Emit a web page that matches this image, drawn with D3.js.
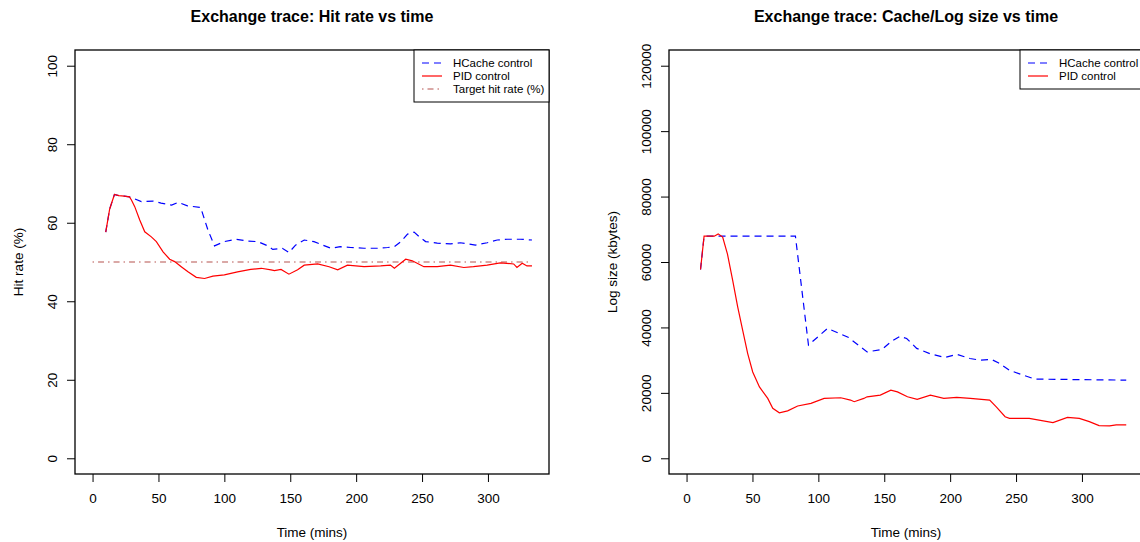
<!DOCTYPE html>
<html>
<head>
<meta charset="utf-8">
<script src="https://cdn.jsdelivr.net/npm/d3@7"></script>
<style>
  body { margin: 0; background: #fff; }
  text { font-family: "Liberation Sans", Arial, sans-serif; }
</style>
</head>
<body>
<div id="chart"></div>
<script>
// Hit rate (%) traces
var hitTime = [10, 13, 16.6, 20, 24, 28, 29.5, 32, 35.8, 39.6, 44.6, 48.4, 53.5, 58.5, 62.3, 67.3, 72.4, 78.7, 85, 91.3, 100, 105, 110, 115, 120, 128, 135.4, 138, 143, 149, 155.6, 160.6, 170.8, 179.5, 186, 193.4, 206, 218.6, 226, 229, 237.6, 242.6, 251.4, 261.5, 271.6, 281.7, 289, 299.4, 309.4, 319.5, 322, 326, 329.6, 333.4];
var hitPid = [57.6, 63.5, 67.2, 66.9, 66.8, 66.6, 65.8, 64.1, 60.7, 57.7, 56.4, 55.2, 52.6, 50.7, 50.1, 48.8, 47.5, 46.1, 45.8, 46.4, 46.7, 47.1, 47.5, 47.8, 48.1, 48.4, 48.0, 47.8, 48.1, 46.9, 48.0, 49.2, 49.5, 48.8, 48.0, 49.2, 48.8, 49.0, 49.2, 48.4, 50.7, 50.3, 48.8, 48.8, 49.2, 48.6, 48.8, 49.2, 49.8, 49.5, 48.6, 49.7, 49.0, 49.0];

var hcTime = [10, 13, 16.6, 20, 24, 28, 37, 46, 52, 60, 65, 72, 82, 87.5, 92.5, 100, 109, 115, 118, 125.4, 133, 136.7, 144, 149, 154, 160.6, 168, 174.5, 181, 188, 196, 206, 216, 224, 229, 234, 239, 244, 248, 252.7, 261.5, 271.6, 279, 290.5, 299.4, 307, 314.5, 324.6, 333.4];
var hitHc = [57.6, 63.5, 67.2, 66.9, 66.8, 66.6, 65.4, 65.5, 65.0, 64.5, 65.2, 64.3, 63.9, 58.2, 54.1, 55.2, 55.8, 55.5, 55.3, 55.2, 54.1, 53.2, 53.5, 52.4, 54.3, 55.6, 55.2, 54.3, 53.5, 53.9, 53.7, 53.5, 53.5, 53.7, 53.9, 55.2, 57.1, 57.6, 56.4, 55.2, 54.8, 54.6, 54.9, 54.3, 54.9, 55.6, 55.8, 55.8, 55.6];

var targetTime = [0, 333];
var targetRate = [50, 50];

// Log size (kbytes) traces
var logPidTime = [10.6, 13.3, 21, 24, 27.4, 31, 35, 38.8, 42.6, 46.4, 50.2, 55.3, 61.6, 65.4, 70.4, 76.7, 84.3, 94.4, 104.4, 117, 124.4, 127.2, 134.5, 137, 147, 155, 160, 167.6, 175, 185, 195.2, 205, 215.3, 230, 235, 241.7, 245, 260, 278, 289, 298, 305.6, 313, 321, 326, 333.6];
var logPid = [57700, 67900, 67900, 68600, 67600, 62500, 54400, 46300, 39100, 32000, 26400, 21800, 18300, 15300, 13900, 14500, 16000, 16800, 18300, 18500, 17800, 17300, 18300, 18800, 19300, 20800, 20300, 18800, 18000, 19300, 18300, 18600, 18300, 17800, 15700, 12700, 12200, 12200, 10900, 12500, 12200, 11200, 10000, 9900, 10200, 10200];

var logHcTime = [10.6, 13.3, 82.6, 92.5, 107, 123, 137, 148.4, 155, 162, 167, 174.6, 184.6, 196, 205, 215, 222.6, 231.4, 236.5, 245, 255.6, 264.5, 333.6];
var logHc = [57700, 67900, 67900, 34600, 39700, 36900, 32500, 33300, 35600, 37300, 36600, 33600, 32000, 30800, 31800, 30500, 30000, 30200, 29200, 26900, 25400, 24200, 23900];

var xTicks = [0, 50, 100, 150, 200, 250, 300];
var hitTicks = [0, 20, 40, 60, 80, 100];
var logTicks = [0, 20000, 40000, 60000, 80000, 100000, 120000];

var svg = d3.select("#chart").append("svg")
  .attr("width", 1140)
  .attr("height", 542);

function zip(xs, ys) {
  return xs.map(function(x, i) { return [x, ys[i]]; });
}

function drawPanel(left, title, ylabel, yMax, yTicks, series, legend) {
  var top = 50, w = 474, h = 424;
  var xRange = [0, 333];
  var pad = (xRange[1] - xRange[0]) * 0.04;
  var x = d3.scaleLinear().domain([xRange[0] - pad, xRange[1] + pad]).range([0, w]);
  var y = d3.scaleLinear().domain([-yMax * 0.04, yMax * 1.04]).range([h, 0]);

  var g = svg.append("g").attr("transform", `translate(${left}, ${top})`);

  var line = d3.line().x(d => x(d[0])).y(d => y(d[1]));

  series.forEach(function(s) {
    g.append("path")
      .datum(s.data)
      .attr("fill", "none")
      .attr("stroke", s.color)
      .attr("stroke-width", 1.2)
      .attr("stroke-dasharray", s.dash)
      .attr("d", line);
  });

  // box
  g.append("rect")
    .attr("width", w).attr("height", h)
    .attr("fill", "none").attr("stroke", "#000").attr("stroke-width", 1.3);

  // x axis
  var xAxis = g.append("g")
    .attr("transform", `translate(0, ${h})`)
    .call(d3.axisBottom(x).tickValues(xTicks).tickSize(8).tickSizeOuter(0));
  xAxis.select(".domain").remove();
  xAxis.selectAll("text").attr("font-size", "13.5px").attr("dy", "1.3em")
    .style("font-family", "Liberation Sans, Arial, sans-serif");

  // y axis with rotated labels
  var yAxis = g.append("g")
    .call(d3.axisLeft(y).tickValues(yTicks).tickSize(8).tickSizeOuter(0).tickFormat(d3.format("d")));
  yAxis.select(".domain").remove();
  yAxis.selectAll("text")
    .attr("x", null).attr("dy", null)
    .attr("text-anchor", "middle")
    .attr("font-size", "13.5px")
    .attr("transform", "translate(-18, 0) rotate(-90)")
    .style("font-family", "Liberation Sans, Arial, sans-serif");

  // titles
  g.append("text")
    .attr("x", w / 2).attr("y", -28)
    .attr("text-anchor", "middle")
    .attr("font-size", "16px").attr("font-weight", "bold")
    .text(title);

  g.append("text")
    .attr("x", w / 2).attr("y", h + 63)
    .attr("text-anchor", "middle")
    .attr("font-size", "13.5px")
    .text("Time (mins)");

  g.append("text")
    .attr("transform", "rotate(-90)")
    .attr("x", -h / 2).attr("y", -52)
    .attr("text-anchor", "middle")
    .attr("font-size", "13.5px")
    .text(ylabel);

  // legend, top right
  var lw = legend.width, lh = 13 * legend.items.length + 13;
  var lg = g.append("g").attr("transform", `translate(${w - lw}, 0)`);
  lg.append("rect")
    .attr("width", lw).attr("height", lh)
    .attr("fill", "#fff").attr("stroke", "#000").attr("stroke-width", 1);
  legend.items.forEach(function(it, i) {
    var yy = 13 + i * 13;
    lg.append("line")
      .attr("x1", 8).attr("x2", 28).attr("y1", yy).attr("y2", yy)
      .attr("stroke", it.color).attr("stroke-width", 1.2)
      .attr("stroke-dasharray", it.dash);
    lg.append("text")
      .attr("x", 39).attr("y", yy + 4)
      .attr("font-size", "11.5px")
      .text(it.label);
  });
}

var blue = "#0000ff", red = "#ff0000", brown = "#b5524f";

drawPanel(75, "Exchange trace: Hit rate vs time", "Hit rate (%)", 100, hitTicks,
  [
    { data: zip(targetTime, targetRate), color: brown, dash: "1.5,4,6,4" },
    { data: zip(hcTime, hitHc), color: blue, dash: "7,5" },
    { data: zip(hitTime, hitPid), color: red, dash: null }
  ],
  { width: 135, items: [
    { label: "HCache control", color: blue, dash: "7,5" },
    { label: "PID control", color: red, dash: null },
    { label: "Target hit rate (%)", color: brown, dash: "1.5,4,6,4" }
  ] });

drawPanel(669, "Exchange trace: Cache/Log size vs time", "Log size (kbytes)", 120000, logTicks,
  [
    { data: zip(logHcTime, logHc), color: blue, dash: "7,5" },
    { data: zip(logPidTime, logPid), color: red, dash: null }
  ],
  { width: 123, items: [
    { label: "HCache control", color: blue, dash: "7,5" },
    { label: "PID control", color: red, dash: null }
  ] });
</script>
</body>
</html>
